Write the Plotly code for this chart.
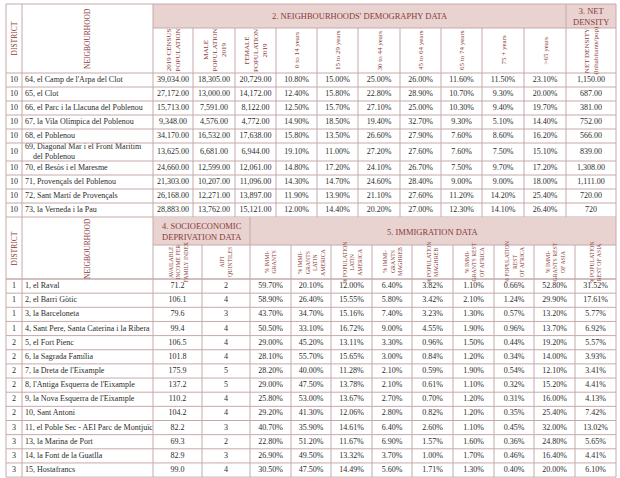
import plotly.graph_objects as go

# ---------------- DATA ----------------
# Table 1: neighbourhoods' demography + net density
districts_top = [10, 10, 10, 10, 10, 10, 10, 10, 10, 10]
neigh_top = ["64, el Camp de l'Arpa del Clot", "65, el Clot", "66, el Parc i la Llacuna del Poblenou",
             "67, la Vila Olímpica del Poblenou", "68, el Poblenou",
             "69, Diagonal Mar i el Front Marítim<br>\u00a0\u00a0\u00a0\u00a0del Poblenou", "70, el Besòs i el Maresme",
             "71, Provençals del Poblenou", "72, Sant Martí de Provençals", "73, la Verneda i la Pau"]
census_pop = [39034, 27172, 15713, 9348, 34170, 13625, 24660, 21303, 26168, 28883]
male_pop = [18305, 13000, 7591, 4576, 16532, 6681, 12599, 10207, 12271, 13762]
female_pop = [20729, 14172, 8122, 4772, 17638, 6944, 12061, 11096, 13897, 15121]
age_0_14 = [10.80, 12.40, 12.50, 14.90, 15.80, 19.10, 14.80, 14.30, 11.90, 12.00]
age_15_29 = [15.00, 15.80, 15.70, 18.50, 13.50, 11.00, 17.20, 14.70, 13.90, 14.40]
age_30_44 = [25.00, 22.80, 27.10, 19.40, 26.60, 27.20, 24.10, 24.60, 21.10, 20.20]
age_45_64 = [26.00, 28.90, 25.00, 32.70, 27.90, 27.60, 26.70, 28.40, 27.60, 27.00]
age_65_74 = [11.60, 10.70, 10.30, 9.30, 7.60, 7.60, 7.50, 9.00, 11.20, 12.30]
age_75 = [11.50, 9.30, 9.40, 5.10, 8.60, 7.50, 9.70, 9.00, 14.20, 14.10]
age_over65 = [23.10, 20.00, 19.70, 14.40, 16.20, 15.10, 17.20, 18.00, 25.40, 26.40]
net_density = [1150.0, 687.0, 381.0, 752.0, 566.0, 839.0, 1308.0, 1111.0, 720.0, 720]

top_headers = ["2019 CENSUS<br>POPULATION", "MALE<br>POPULATION<br>2019", "FEMALE<br>POPULATION<br>2019",
               "0 to 14 years", "15 to 29 years", "30 to 44 years", "45 to 64 years", "65 to 74 years",
               "75 + years", ">65 years", "NET DENSITY<br>(inhabitants/pop)"]

# Table 2: socioeconomic deprivation + immigration
districts_bot = [1, 1, 1, 1, 2, 2, 2, 2, 2, 2, 3, 3, 3, 3]
neigh_bot = ["1, el Raval", "2, el Barri Gòtic", "3, la Barceloneta", "4, Sant Pere, Santa Caterina i la Ribera",
             "5, el Fort Pienc", "6, la Sagrada Família", "7, la Dreta de l'Eixample",
             "8, l'Antiga Esquerra de l'Eixample", "9, la Nova Esquerra de l'Eixample", "10, Sant Antoni",
             "11, el Poble Sec - AEI Parc de Montjuïc", "13, la Marina de Port", "14, la Font de la Guatlla",
             "15, Hostafrancs"]
aifi = [71.2, 106.1, 79.6, 99.4, 106.5, 101.8, 175.9, 137.2, 110.2, 104.2, 82.2, 69.3, 82.9, 99.0]
aifi_quintiles = [2, 4, 3, 4, 4, 4, 5, 5, 4, 4, 3, 2, 3, 4]
imm = [59.70, 58.90, 43.70, 50.50, 29.00, 28.10, 28.20, 29.00, 25.80, 29.20, 40.70, 22.80, 26.90, 30.50]
imm_latam = [20.10, 26.40, 34.70, 33.10, 45.20, 55.70, 40.00, 47.50, 53.00, 41.30, 35.90, 51.20, 49.50, 47.50]
pop_latam = [12.00, 15.55, 15.16, 16.72, 13.11, 15.65, 11.28, 13.78, 13.67, 12.06, 14.61, 11.67, 13.32, 14.49]
imm_maghreb = [6.40, 5.80, 7.40, 9.00, 3.30, 3.00, 2.10, 2.10, 2.70, 2.80, 6.40, 6.90, 3.70, 5.60]
pop_maghreb = [3.82, 3.42, 3.23, 4.55, 0.96, 0.84, 0.59, 0.61, 0.70, 0.82, 2.60, 1.57, 1.00, 1.71]
imm_africa = [1.10, 2.10, 1.30, 1.90, 1.50, 1.20, 1.90, 1.10, 1.20, 1.20, 1.10, 1.60, 1.70, 1.30]
pop_africa = [0.66, 1.24, 0.57, 0.96, 0.44, 0.34, 0.54, 0.32, 0.31, 0.35, 0.45, 0.36, 0.46, 0.40]
imm_asia = [52.80, 29.90, 13.20, 13.70, 19.20, 14.00, 12.10, 15.20, 16.00, 25.40, 32.00, 24.80, 16.40, 20.00]
pop_asia = [31.52, 17.61, 5.77, 6.92, 5.57, 3.93, 3.41, 4.41, 4.13, 7.42, 13.02, 5.65, 4.41, 6.10]

bot_headers = ["AVAILABLE<br>INCOME PER<br>FAMILY INDEX", "AIFI<br>QUINTILES", "% IMMI-<br>GRANTS",
               "% IMMI-<br>GRANTS<br>LATIN<br>AMERICA", "% POPULATION<br>LATIN<br>AMERICA",
               "% IMMI-<br>GRANTS<br>MAGHREB", "% POPULATION<br>MAGHREB",
               "% IMMI-<br>GRANTS REST<br>OF AFRICA", "% POPULATION<br>REST<br>OF AFRICA",
               "% IMMI-<br>GRANTS REST<br>OF ASIA", "% POPULATION<br>REST OF ASIA"]

# ---------------- LAYOUT / STYLE ----------------
W, H = 620, 478
FONT = "Liberation Serif"
TXT = "#2b2b2b"
HDR = "#8a3a3a"
PINK = "#e8d3d1"
LINE = "#c6aaaa"

xb_top = [6, 22, 153, 193, 235, 276, 317, 358, 400, 441, 482, 524, 566, 616]
xb_bot = [6, 22, 153, 202, 250, 291, 331, 372, 412, 453, 494, 534, 575, 616]

top_y0, top_y1, top_y2 = 4, 28, 73
top_heights = [14, 14, 14, 14, 14, 18, 14, 14, 14, 14]
bot_y0, bot_y1, bot_y2 = 218, 245, 279
bot_row_h = 14.15


def row_bounds(start, heights):
    b = [start]
    for h in heights:
        b.append(b[-1] + h)
    return b


ryb_top = row_bounds(top_y2, top_heights)
ryb_bot = row_bounds(bot_y2, [bot_row_h] * len(neigh_bot))
rc_top = [(ryb_top[i] + ryb_top[i + 1]) / 2 for i in range(len(top_heights))]
rc_bot = [(ryb_bot[i] + ryb_bot[i + 1]) / 2 for i in range(len(neigh_bot))]


def centers(xb):
    return [(xb[i] + xb[i + 1]) / 2 for i in range(len(xb) - 1)]


cx_top = centers(xb_top)
cx_bot = centers(xb_bot)

fig = go.Figure()


def add_col(x, ys, texts, pos="middle center"):
    fig.add_trace(go.Scatter(
        x=[x] * len(ys), y=ys, text=texts, mode="text", textposition=pos,
        textfont=dict(family=FONT, size=8, color=TXT), hoverinfo="skip", showlegend=False,
        cliponaxis=False))


def pct(v):
    return [f"{a:.2f}%" for a in v]


def num(v):
    return [f"{a:,.2f}" for a in v]


# ---- table 1 cells
add_col(cx_top[0], rc_top, [str(d) for d in districts_top])
add_col(xb_top[1] + 3, rc_top, neigh_top, "middle right")
top_cols = [num(census_pop), num(male_pop), num(female_pop), pct(age_0_14), pct(age_15_29),
            pct(age_30_44), pct(age_45_64), pct(age_65_74), pct(age_75), pct(age_over65),
            [f"{a:,.2f}" if isinstance(a, float) else f"{a}" for a in net_density]]
for j, col in enumerate(top_cols):
    add_col(cx_top[j + 2], rc_top, col)

# ---- table 2 cells
add_col(cx_bot[0], rc_bot, [str(d) for d in districts_bot])
add_col(xb_bot[1] + 3, rc_bot, neigh_bot, "middle right")
bot_cols = [[f"{a:.1f}" for a in aifi], [str(q) for q in aifi_quintiles], pct(imm), pct(imm_latam),
            pct(pop_latam), pct(imm_maghreb), pct(pop_maghreb), pct(imm_africa), pct(pop_africa),
            pct(imm_asia), pct(pop_asia)]
for j, col in enumerate(bot_cols):
    add_col(cx_bot[j + 2], rc_bot, col)

shapes = []
# pink group header fills
for (x0, x1, y0, y1) in [(xb_top[2], xb_top[12], top_y0, top_y1), (xb_top[12], xb_top[13], top_y0, top_y1),
                         (xb_bot[2], xb_bot[4], bot_y0, bot_y1), (xb_bot[4], xb_bot[13], bot_y0, bot_y1)]:
    shapes.append(dict(type="rect", x0=x0, x1=x1, y0=y0, y1=y1, fillcolor=PINK, line=dict(width=0),
                       layer="below"))


def hline(y, x0, x1):
    shapes.append(dict(type="line", x0=x0, x1=x1, y0=y, y1=y, line=dict(color=LINE, width=1)))


def vline(x, y0, y1):
    shapes.append(dict(type="line", x0=x, x1=x, y0=y0, y1=y1, line=dict(color=LINE, width=1)))


# table 1 lines
hline(top_y0, xb_top[0], xb_top[-1])
hline(top_y1, xb_top[2], xb_top[-1])
for y in ryb_top:
    hline(y, xb_top[0], xb_top[-1])
for i, x in enumerate(xb_top):
    if i in (0, 1, 2, 12, 13):
        vline(x, top_y0, ryb_top[-1])
    else:
        vline(x, top_y1, ryb_top[-1])
# table 2 lines
hline(bot_y1, xb_bot[2], xb_bot[-1])
hline(bot_y2, xb_bot[0], xb_bot[-1])
for y in ryb_bot:
    hline(y, xb_bot[0], xb_bot[-1])
for i, x in enumerate(xb_bot):
    if i in (0, 1, 2, 4, 13):
        vline(x, ryb_top[-1], ryb_bot[-1])
    else:
        vline(x, bot_y1, ryb_bot[-1])

ann = []


def label(x, y, text, size=8, angle=0):
    ann.append(dict(x=x, y=y, text=text, showarrow=False, textangle=angle, xanchor="center",
                    yanchor="middle", font=dict(family=FONT, size=size, color=HDR)))


# group headers
label((xb_top[2] + xb_top[12]) / 2, (top_y0 + top_y1) / 2, "2. NEIGHBOURHOODS' DEMOGRAPHY DATA", 8.5)
label((xb_top[12] + xb_top[13]) / 2, (top_y0 + top_y1) / 2, "3. NET<br>DENSITY", 8.5)
label((xb_bot[2] + xb_bot[4]) / 2, (bot_y0 + bot_y1) / 2, "4. SOCIOECONOMIC<br>DEPRIVATION DATA", 8.5)
label((xb_bot[4] + xb_bot[13]) / 2, (bot_y0 + bot_y1) / 2, "5. IMMIGRATION DATA", 8.5)
# rotated column headers
label(cx_top[0], (top_y0 + top_y2) / 2, "DISTRICT", 7.5, -90)
label(cx_top[1], (top_y0 + top_y2) / 2, "NEIGBOURHOOD", 7.5, -90)
for j, t in enumerate(top_headers):
    label(cx_top[j + 2], (top_y1 + top_y2) / 2, t, 7, -90)
label(cx_bot[0], (bot_y0 + bot_y2) / 2, "DISTRICT", 7.5, -90)
label(cx_bot[1], (bot_y0 + bot_y2) / 2, "NEIGBOURHOOD", 7.5, -90)
for j, t in enumerate(bot_headers):
    label(cx_bot[j + 2], (bot_y1 + bot_y2) / 2, t, 5.8, -90)

fig.update_layout(
    width=W, height=H, margin=dict(l=0, r=0, t=0, b=0),
    paper_bgcolor="white", plot_bgcolor="white",
    xaxis=dict(range=[0, W], visible=False, fixedrange=True),
    yaxis=dict(range=[H, 0], visible=False, fixedrange=True),
    shapes=shapes, annotations=ann, showlegend=False, hovermode=False,
)

fig.write_html("out.html", config={"displayModeBar": False},
               post_script="document.body.style.margin='0';")
